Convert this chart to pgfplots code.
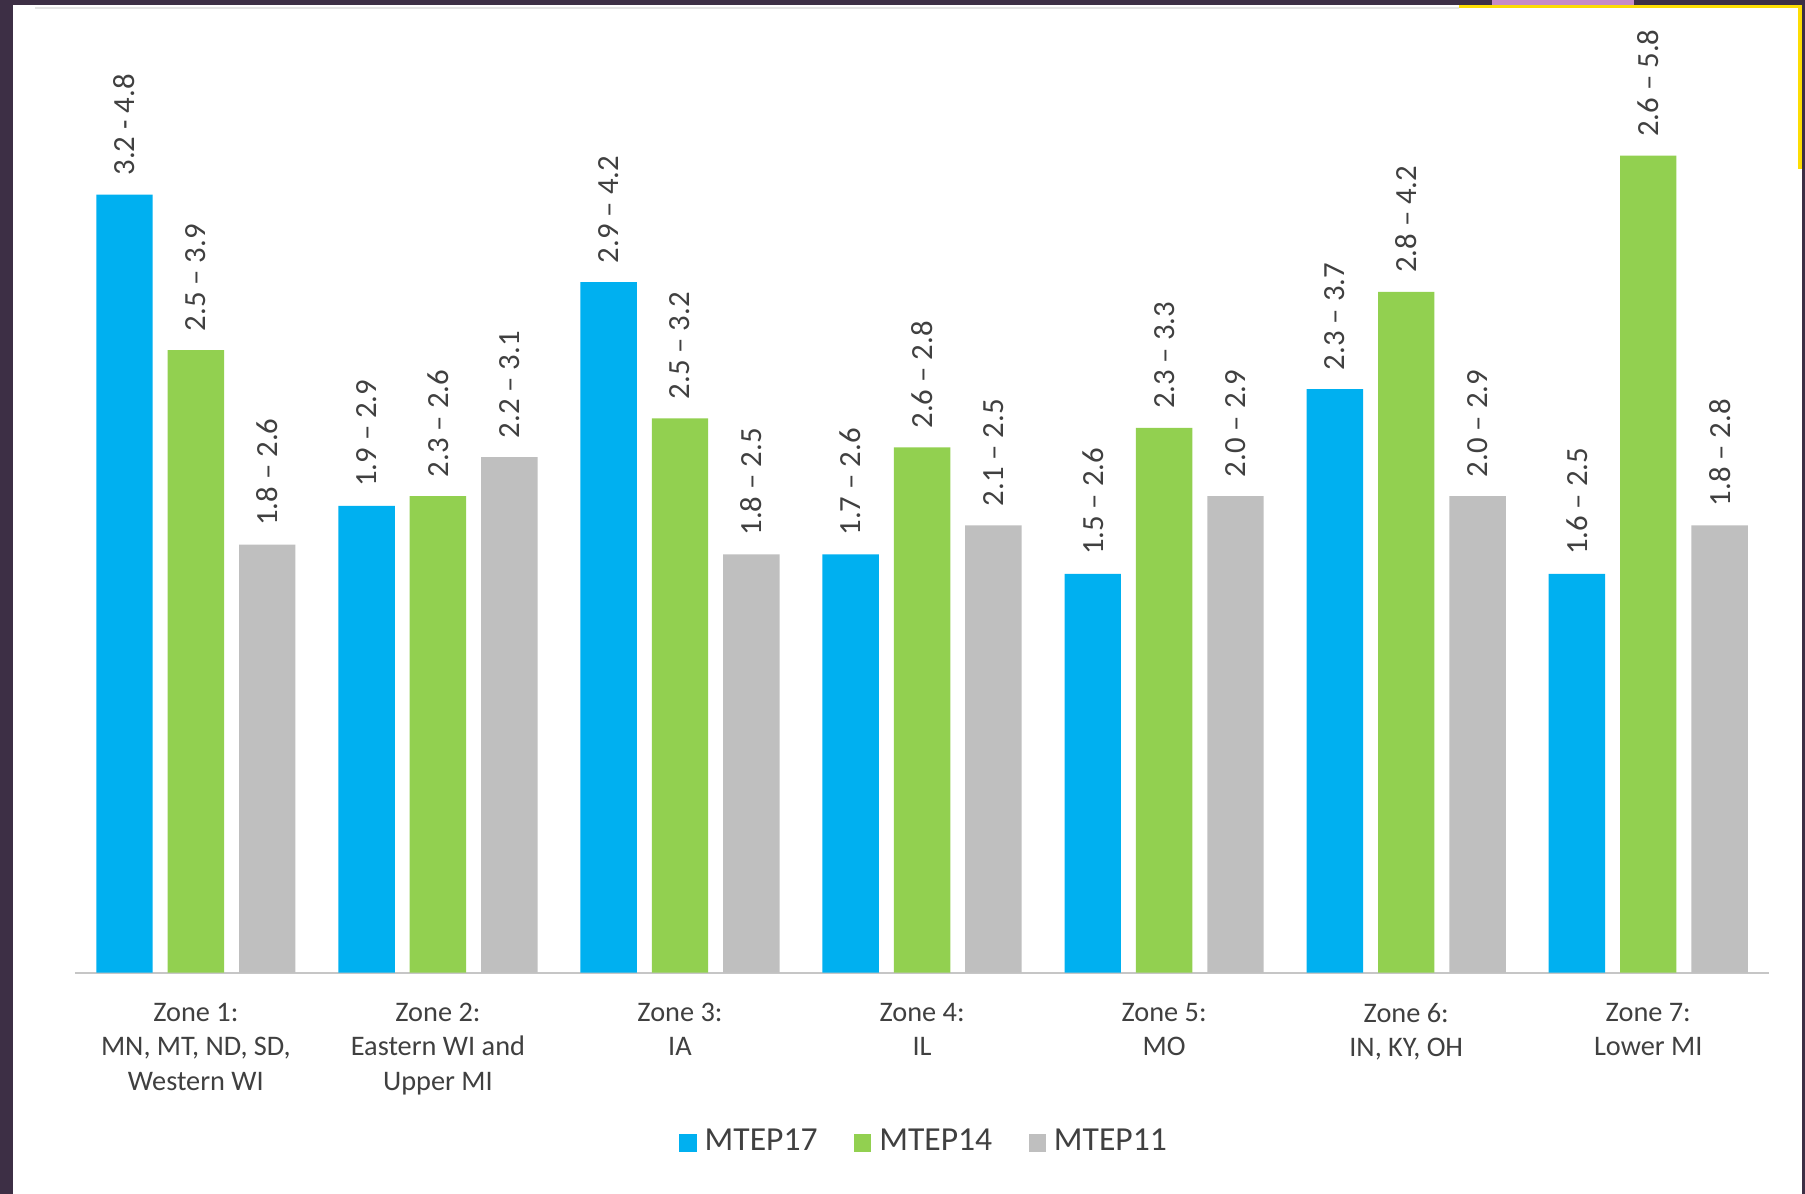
\documentclass[border=0pt]{standalone}
\usepackage{fontspec}
\setmainfont{Carlito}
\usepackage{pgfplots}
\pgfplotsset{compat=1.18}

\definecolor{cBlue}{HTML}{00B0F0}
\definecolor{cGreen}{HTML}{92D050}
\definecolor{cGray}{HTML}{BFBFBF}
\definecolor{txt}{HTML}{404040}
\definecolor{frame}{HTML}{3D2F45}

\begin{document}
\begin{tikzpicture}
% screenshot frame
\fill[white] (0,0) rectangle (15.68,10.37);
\fill[frame] (0,0) rectangle (0.11,10.37);
\fill[frame] (0,10.33) rectangle (15.68,10.37);
\fill[frame] (15.65,0) rectangle (15.68,10.37);
\fill[gray!20] (0.30,10.29) rectangle (12.67,10.31);
\fill[yellow!80!orange] (12.67,10.30) rectangle (15.65,10.33);
\fill[yellow!80!orange] (15.62,8.90) rectangle (15.65,10.33);
\fill[violet!45] (12.96,10.33) rectangle (14.19,10.37);

\begin{axis}[
    at={(0.65cm,1.92cm)}, anchor=south west,
    width=14.72cm, height=8.45cm, scale only axis,
    xmin=-0.5, xmax=6.5, ymin=0, ymax=5,
    clip=false,
    ybar=0.13cm, bar width=0.49cm,
    axis x line*=bottom, axis y line=none,
    x axis line style={draw=gray!45, line width=0.6pt},
    xtick={0,...,6}, major tick length=0pt, ytick=\empty,
    xticklabels={{Zone 1:\\MN, MT, ND, SD,\\Western WI},
                 {Zone 2:\\Eastern WI and\\Upper MI},
                 {Zone 3:\\IA},
                 {Zone 4:\\IL},
                 {Zone 5:\\MO},
                 {Zone 6:\\IN, KY, OH},
                 {Zone 7:\\Lower MI}},
    xticklabel style={align=center, text=txt, yshift=-4pt,
        font=\fontsize{7}{8.5}\selectfont},
    point meta=explicit symbolic,
    nodes near coords,
    every node near coord/.append style={rotate=90, anchor=west,
        inner xsep=4.5pt, text=txt, font=\fontsize{7.6}{9}\selectfont},
    legend columns=3,
    legend style={at={(0.503,-0.175)}, anchor=center, draw=none,
        fill=none, font=\fontsize{8.3}{10}\selectfont, text=txt,
        /tikz/every even column/.append style={column sep=7pt}},
    legend image code/.code={\fill[#1] (0cm,-0.075cm) rectangle (0.15cm,0.075cm);},
]
\addplot[fill=cBlue, draw=none] coordinates {
    (0,4.00) [3.2 - 4.8]
    (1,2.40) [1.9 – 2.9]
    (2,3.55) [2.9 – 4.2]
    (3,2.15) [1.7 – 2.6]
    (4,2.05) [1.5 – 2.6]
    (5,3.00) [2.3 – 3.7]
    (6,2.05) [1.6 – 2.5]
};
\addplot[fill=cGreen, draw=none] coordinates {
    (0,3.20) [2.5 – 3.9]
    (1,2.45) [2.3 – 2.6]
    (2,2.85) [2.5 – 3.2]
    (3,2.70) [2.6 – 2.8]
    (4,2.80) [2.3 – 3.3]
    (5,3.50) [2.8 – 4.2]
    (6,4.20) [2.6 – 5.8]
};
\addplot[fill=cGray, draw=none] coordinates {
    (0,2.20) [1.8 – 2.6]
    (1,2.65) [2.2 – 3.1]
    (2,2.15) [1.8 – 2.5]
    (3,2.30) [2.1 – 2.5]
    (4,2.45) [2.0 – 2.9]
    (5,2.45) [2.0 – 2.9]
    (6,2.30) [1.8 – 2.8]
};
\legend{MTEP17, MTEP14, MTEP11}
\end{axis}
\end{tikzpicture}
\end{document}
